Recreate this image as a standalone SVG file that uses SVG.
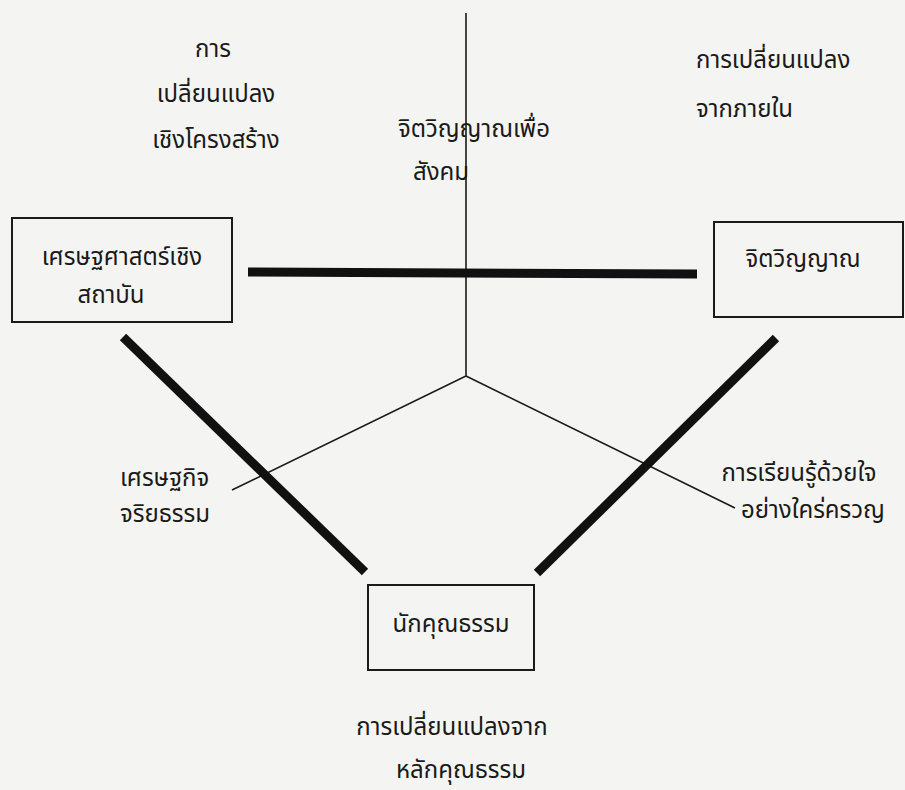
<svg xmlns="http://www.w3.org/2000/svg" width="905" height="790" viewBox="0 0 905 790">
<style>
text{font-family:"Noto Sans Thai","Noto Sans","DejaVu Sans",sans-serif;font-size:24px;fill:#1a1a1a}
.m{text-anchor:middle}
.box{fill:none;stroke:#1a1a1a;stroke-width:2}
.thin{stroke:#1a1a1a;stroke-width:1.6;fill:none}
.thick{stroke:#111;stroke-width:9;fill:none}
</style>
<rect width="905" height="790" fill="#f4f4f2"/>
<g id="connectors">
<path class="thin" d="M466 13 V376 L232 490 M466 376 L735 508"/>
<path class="thick" d="M248 272 L697 274"/>
<path class="thick" d="M123 337 L365 572"/>
<path class="thick" d="M776 338 L537 573"/>
</g>
<g id="node-left">
<rect class="box" x="12" y="218" width="220" height="104"/>
<text class="m" x="122" y="265">เศรษฐศาสตร์เชิง</text>
<text class="m" x="111" y="303">สถาบัน</text>
</g>
<g id="node-right">
<rect class="box" x="714" y="222" width="189" height="95"/>
<text class="m" x="803" y="267">จิตวิญญาณ</text>
</g>
<g id="node-bottom">
<rect class="box" x="368" y="585" width="166" height="85"/>
<text class="m" x="451" y="632">นักคุณธรรม</text>
</g>
<g id="label-structural">
<text class="m" x="213" y="57">การ</text>
<text class="m" x="216" y="102">เปลี่ยนแปลง</text>
<text class="m" x="216" y="148">เชิงโครงสร้าง</text>
</g>
<g id="label-social">
<text class="m" x="474" y="137">จิตวิญญาณเพื่อ</text>
<text class="m" x="441" y="180">สังคม</text>
</g>
<g id="label-inner">
<text x="696" y="68">การเปลี่ยนแปลง</text>
<text x="696" y="117">จากภายใน</text>
</g>
<g id="label-ethics">
<text x="120" y="486">เศรษฐกิจ</text>
<text x="120" y="522">จริยธรรม</text>
</g>
<g id="label-learning">
<text class="m" x="799" y="481">การเรียนรู้ด้วยใจ</text>
<text class="m" x="813" y="518">อย่างใคร่ครวญ</text>
</g>
<g id="label-moral">
<text class="m" x="452" y="735">การเปลี่ยนแปลงจาก</text>
<text class="m" x="461" y="778">หลักคุณธรรม</text>
</g>
</svg>
